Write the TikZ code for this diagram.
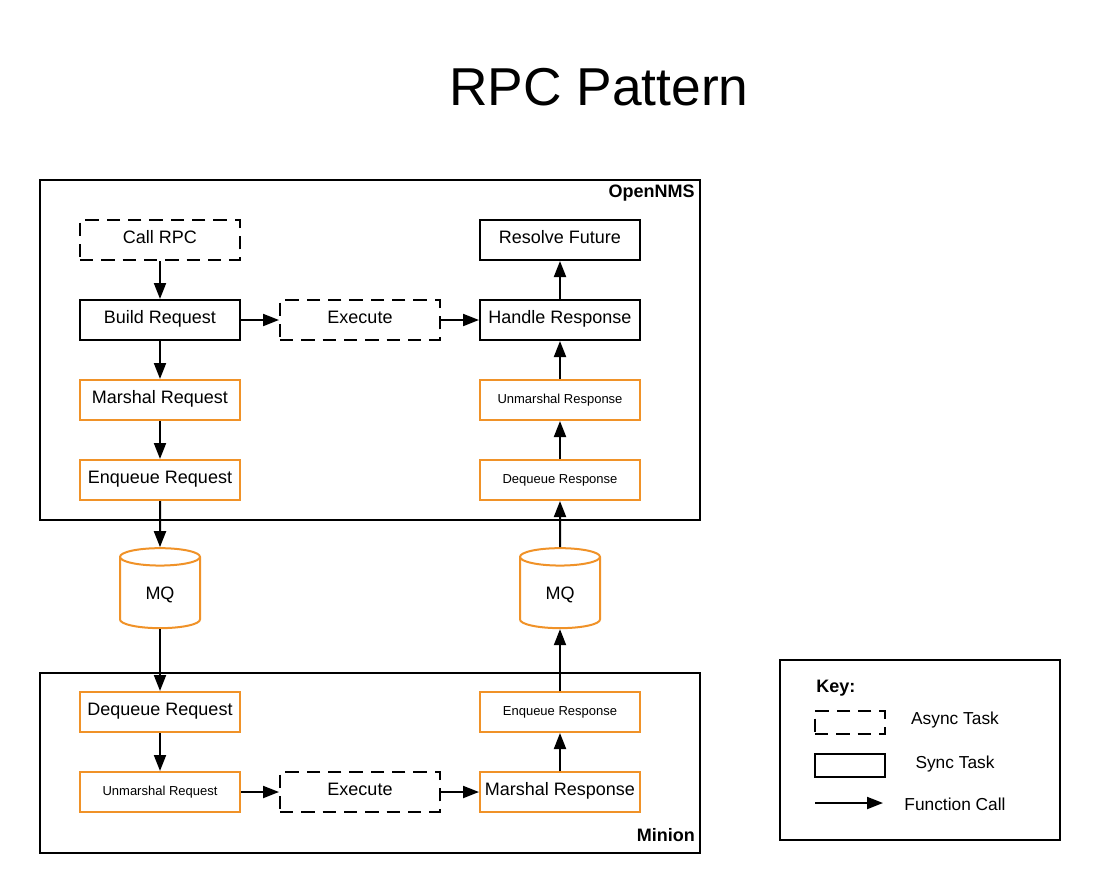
\documentclass[tikz,border=0pt]{standalone}
\usepackage{fontspec}
\setmainfont{Liberation Sans}
\usetikzlibrary{arrows.meta,shapes.geometric}
\definecolor{mqorange}{RGB}{240,146,40}
\begin{document}
\begin{tikzpicture}[x=0.75pt,y=-0.75pt,
    task/.style={draw,line width=1.5pt,minimum width=120pt,minimum height=30pt,
      inner sep=0pt,text height=0.72em,text depth=0.2em,
      font=\fontsize{13.5}{16}\selectfont},
    async/.style={task,dash pattern=on 10pt off 6pt},
    queue/.style={task,draw=mqorange},
    smallq/.style={queue,font=\fontsize{9.75}{12}\selectfont},
    mq/.style={cylinder,shape border rotate=90,aspect=0.6,draw=mqorange,
      line width=1.5pt,minimum width=60pt,minimum height=60pt,inner sep=0pt,
      text height=1.1em,text depth=0.12em,font=\fontsize{13.5}{16}\selectfont},
    call/.style={-{Triangle[length=12pt,width=9pt]},line width=1.5pt},
    frame/.style={draw,line width=1.5pt},
    label/.style={font=\fontsize{13.5}{16}\selectfont\bfseries,inner sep=0pt}]
    \useasboundingbox (0,0) rectangle (1100,893) ;
    \node (title) at (599,87) {\fontsize{40}{48}\selectfont RPC Pattern} ;
    % OpenNMS
    \draw[frame] (40,180) rectangle (700,520) ;
    \node[label,anchor=east] (opennms) at (695,193) {OpenNMS} ;
    \node[async] (callrpc) at (160,240) {Call RPC} ;
    \node[task] (buildreq) at (160,320) {Build Request} ;
    \node[queue] (marshalreq) at (160,400) {Marshal Request} ;
    \node[queue] (enqueuereq) at (160,480) {Enqueue Request} ;
    \node[async] (execa) at (360,320) {Execute} ;
    \node[task] (resolve) at (560,240) {Resolve Future} ;
    \node[task] (handle) at (560,320) {Handle Response} ;
    \node[smallq] (unmarshalresp) at (560,400) {Unmarshal Response} ;
    \node[smallq] (dequeueresp) at (560,480) {Dequeue Response} ;
    % queues
    \node[mq] (mqa) at (160,593) {MQ} ;
    \node[mq] (mqb) at (560,593) {MQ} ;
    % Minion
    \draw[frame] (40,673) rectangle (700,853) ;
    \node[label,anchor=east] (minion) at (695,835) {Minion} ;
    \node[queue] (dequeuereq) at (160,712) {Dequeue Request} ;
    \node[smallq] (unmarshalreq) at (160,792) {Unmarshal Request} ;
    \node[async] (execb) at (360,792) {Execute} ;
    \node[queue] (marshalresp) at (560,792) {Marshal Response} ;
    \node[smallq] (enqueueresp) at (560,712) {Enqueue Response} ;
    % calls
    \draw[call] (callrpc) -- (buildreq) ;
    \draw[call] (buildreq) -- (marshalreq) ;
    \draw[call] (marshalreq) -- (enqueuereq) ;
    \draw[call] (buildreq) -- (execa) ;
    \draw[call] (execa) -- (handle) ;
    \draw[call] (handle) -- (resolve) ;
    \draw[call] (unmarshalresp) -- (handle) ;
    \draw[call] (dequeueresp) -- (unmarshalresp) ;
    \draw[call] (enqueuereq) -- (mqa.north) ;
    \draw[call] (mqa.south) -- (dequeuereq) ;
    \draw[call] (dequeuereq) -- (unmarshalreq) ;
    \draw[call] (unmarshalreq) -- (execb) ;
    \draw[call] (execb) -- (marshalresp) ;
    \draw[call] (marshalresp) -- (enqueueresp) ;
    \draw[call] (enqueueresp) -- (mqb.south) ;
    \draw[call] (mqb.north) -- (dequeueresp) ;
    % key
    \draw[frame] (780,660) rectangle (1060,840) ;
    \node[label,anchor=west] (keytitle) at (816,688) {Key:} ;
    \node[async,minimum width=52.5pt,minimum height=17.25pt] (keyasync) at (850,722.5) {} ;
    \node[task,minimum width=52.5pt,minimum height=17.25pt] (keysync) at (850,765.5) {} ;
    \coordinate (keyfrom) at (815,803) ;
    \coordinate (keyto) at (883,803) ;
    \draw[call] (keyfrom) -- (keyto) ;
    \node[font=\fontsize{13}{16}\selectfont] (asynctext) at (955,720) {Async Task} ;
    \node[font=\fontsize{13}{16}\selectfont] (synctext) at (955,764) {Sync Task} ;
    \node[font=\fontsize{13}{16}\selectfont] (calltext) at (955,804) {Function Call} ;
  \end{tikzpicture}
\end{document}
